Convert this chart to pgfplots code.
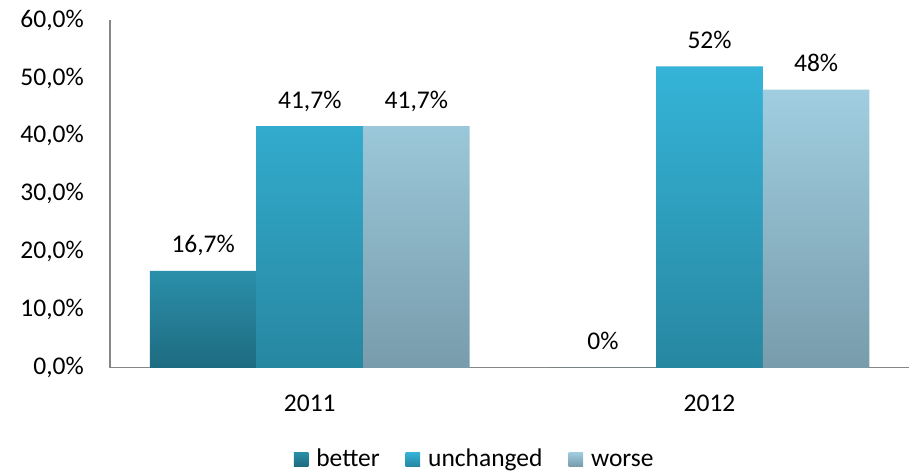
\documentclass[border=0pt]{standalone}
\usepackage{fontspec}
\setmainfont{Carlito}
\usepackage{pgfplots}
\pgfplotsset{compat=1.18}
\definecolor{bT}{HTML}{2B8FAA}
\definecolor{bB}{HTML}{1E6B80}
\definecolor{uT}{HTML}{35B4D8}
\definecolor{uB}{HTML}{2787A1}
\definecolor{wT}{HTML}{A0CEE0}
\definecolor{wB}{HTML}{789CAC}
\definecolor{axc}{HTML}{868686}
\begin{document}
\begin{tikzpicture}
\begin{axis}[
  name=ax,
  scale only axis, width=800bp, height=348bp,
  xmin=-0.5, xmax=1.5, ymin=0, ymax=60,
  ybar=0pt, bar width=0.2667,
  axis x line*=bottom, axis y line*=left,
  axis line style={draw=axc, line width=1.2bp, -},
  major tick length=0pt,
  xtick={0,1}, xticklabels={2011,2012},
  ytick={0,10,20,30,40,50,60},
  yticklabels={{0,0\%},{10,0\%},{20,0\%},{30,0\%},{40,0\%},{50,0\%},{60,0\%}},
  ticklabel style={font=\fontsize{25.5bp}{28bp}\selectfont, text=black},
  yticklabel style={anchor=east, inner sep=0pt, xshift=-26bp},
  xticklabel style={anchor=base, inner sep=0pt, yshift=-43.5bp},
  nodes near coords,
  point meta=explicit symbolic,
  every node near coord/.append style={font=\fontsize{25.5bp}{28bp}\selectfont, text=black, anchor=base, inner sep=0pt, yshift=18bp},
  legend style={at={(0.455,-0.2595)}, anchor=center, legend columns=3, draw=none, fill=none,
    font=\fontsize{25.5bp}{28bp}\selectfont, inner sep=0pt,
    nodes={inner sep=0pt, anchor=base west},
    /tikz/every even column/.append style={column sep=26bp},
    /tikz/every odd column/.append style={column sep=8bp}},
  legend image code/.code={\path[#1] (0bp,0bp) rectangle (14.5bp,14bp);},
  clip=false,
]
\addplot[draw=none, top color=bT, bottom color=bB] coordinates {(0,16.7) [16,7\%] (1,0) [0\%]};
\addplot[draw=none, top color=uT, bottom color=uB] coordinates {(0,41.7) [41,7\%] (1,52) [52\%]};
\addplot[draw=none, top color=wT, bottom color=wB] coordinates {(0,41.7) [41,7\%] (1,48) [48\%]};
\legend{better,unchanged,worse}
\end{axis}
\path[use as bounding box] ([shift={(-110bp,-104bp)}]ax.south west) rectangle ([shift={(0bp,20bp)}]ax.north east);
\end{tikzpicture}
\end{document}
